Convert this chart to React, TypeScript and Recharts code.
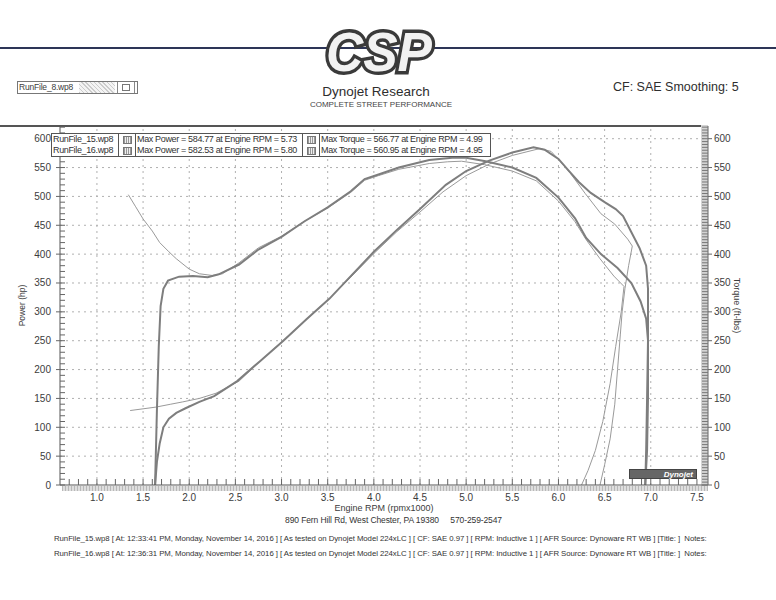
import React from "react";
import { LineChart, Line, XAxis, YAxis, ReferenceLine } from "recharts";

const FONT = '"Liberation Sans", Arial, sans-serif';

// axis labels
const RPM_LABELS = [1.0, 1.5, 2.0, 2.5, 3.0, 3.5, 4.0, 4.5, 5.0, 5.5, 6.0, 6.5, 7.0, 7.5];
const VALUE_LABELS = [0, 50, 100, 150, 200, 250, 300, 350, 400, 450, 500, 550, 600];

// run summary (legend table + footer)
const RUN_FILES = ["RunFile_15.wp8", "RunFile_16.wp8"];
const MAX_POWER = [584.77, 582.53];
const MAX_POWER_RPM = [5.73, 5.8];
const MAX_TORQUE = [566.77, 560.95];
const MAX_TORQUE_RPM = [4.99, 4.95];
const RUN_TIMES = ["12:33:41 PM", "12:36:31 PM"];

// [rpm x1000, value]
// run 15 - heavier trace, ends with a straight drop at ~6.95
const power15: [number, number][] = [
  [1.63, 0], [1.65, 40], [1.68, 72], [1.72, 100], [1.78, 115], [1.86, 125], [1.96, 133],
  [2.11, 144], [2.27, 154], [2.52, 180], [2.77, 215], [3.02, 250], [3.27, 287], [3.52, 323],
  [3.75, 362], [4.0, 404], [4.25, 442], [4.5, 478], [4.78, 520], [5.0, 544], [5.25, 562],
  [5.5, 576], [5.73, 585], [5.85, 581], [6.0, 565], [6.12, 543], [6.22, 525], [6.35, 506],
  [6.5, 490], [6.62, 478], [6.7, 466], [6.79, 438], [6.88, 410], [6.95, 380], [6.97, 340],
  [6.97, 250], [6.96, 150], [6.95, 60], [6.94, 0],
];
const torque15: [number, number][] = [
  [1.63, 0], [1.65, 130], [1.67, 240], [1.69, 310], [1.72, 340], [1.77, 354], [1.89, 361],
  [2.04, 362], [2.2, 360], [2.32, 365], [2.54, 382], [2.75, 408], [3.0, 430], [3.25, 457],
  [3.5, 481], [3.75, 509], [3.9, 530], [4.05, 538], [4.27, 550], [4.6, 563], [4.85, 567],
  [5.0, 567], [5.21, 561], [5.5, 550], [5.76, 532], [6.0, 498], [6.18, 462], [6.3, 428],
  [6.46, 400], [6.64, 376], [6.79, 350], [6.89, 318], [6.95, 288], [6.97, 250], [6.97, 150],
  [6.96, 60], [6.94, 0],
];
// run 16 - thin trace, starts at 1.34 and coasts back down at the top end
const power16: [number, number][] = [
  [1.36, 129], [1.5, 132], [1.64, 135], [1.8, 140], [1.93, 144], [2.11, 150], [2.29, 159],
  [2.54, 180], [2.75, 212], [3.0, 248], [3.25, 284], [3.5, 320], [3.75, 360], [4.0, 401],
  [4.25, 439], [4.5, 473], [4.75, 508], [5.0, 536], [5.25, 556], [5.5, 571], [5.8, 583],
  [5.92, 578], [6.0, 564], [6.12, 542], [6.29, 505], [6.46, 470], [6.61, 452], [6.75, 426],
  [6.8, 414], [6.76, 380], [6.72, 340], [6.69, 300], [6.67, 260], [6.64, 200], [6.61, 140],
  [6.56, 80], [6.5, 35], [6.45, 0],
];
const torque16: [number, number][] = [
  [1.34, 503], [1.42, 482], [1.5, 461], [1.6, 440], [1.68, 420], [1.78, 404], [1.86, 392],
  [2.0, 374], [2.11, 366], [2.25, 363], [2.36, 366], [2.54, 385], [2.75, 411], [3.0, 431],
  [3.25, 457], [3.5, 480], [3.75, 507], [3.9, 528], [4.05, 536], [4.27, 547], [4.6, 557],
  [4.8, 560], [4.95, 561], [5.2, 555], [5.5, 544], [5.76, 527], [6.0, 492], [6.18, 456],
  [6.3, 425], [6.45, 392], [6.6, 362], [6.71, 344], [6.68, 300], [6.62, 240], [6.56, 176],
  [6.48, 110], [6.4, 60], [6.32, 25], [6.25, 0],
];

const pts = (arr: [number, number][]) => arr.map(([rpm, v]) => ({ rpm, v }));

const rpmMinor = Array.from({ length: 69 }, (_, i) => Math.round((0.7 + i * 0.1) * 10) / 10);
const leftMinor = Array.from({ length: 63 }, (_, i) => i * 10);
const rightMinor = Array.from({ length: 125 }, (_, i) => i * 5);

const INK = "#3c3c3c";
const THICK = "#7e7e7e";
const THIN = "#9a9a9a";

const RpmTick = (props: any) => {
  const { x, y, payload } = props;
  const v = payload.value as number;
  const major = RPM_LABELS.includes(v);
  return (
    <g>
      <line x1={x} x2={x} y1={y} y2={y - 6} stroke="#666" />
      {major && (
        <text x={x} y={y + 16} textAnchor="middle" fontSize={10} fill={INK} fontFamily={FONT}>
          {v.toFixed(1)}
        </text>
      )}
    </g>
  );
};

const LeftTick = (props: any) => {
  const { x, y, payload } = props;
  const v = payload.value as number;
  const major = VALUE_LABELS.includes(v);
  return (
    <g>
      <line x1={x} x2={x + 5} y1={y} y2={y} stroke="#666" />
      {major && <line x1={x - 4} x2={x} y1={y} y2={y} stroke="#666" />}
      {major && (
        <text x={x - 9} y={y + 3.5} textAnchor="end" fontSize={10} fill={INK} fontFamily={FONT}>
          {v}
        </text>
      )}
    </g>
  );
};

const RightTick = (props: any) => {
  const { x, y, payload } = props;
  const v = payload.value as number;
  const major = VALUE_LABELS.includes(v);
  return (
    <g>
      <line x1={x - 6} x2={x} y1={y} y2={y} stroke="#777" />
      {major && <line x1={x} x2={x + 4} y1={y} y2={y} stroke="#666" />}
      {major && (
        <text x={x + 6} y={y + 3.5} textAnchor="start" fontSize={10} fill={INK} fontFamily={FONT}>
          {v}
        </text>
      )}
    </g>
  );
};

const Icon = () => (
  <div style={{ width: 16, borderRight: "1px solid #555", display: "flex", alignItems: "center", justifyContent: "center" }}>
    <div style={{ width: 7, height: 6, border: "1px solid #777", background: "repeating-linear-gradient(90deg,#999 0 1px,#eee 1px 2px)" }} />
  </div>
);

const Cell = ({ w, children, last }: { w: number; children: React.ReactNode; last?: boolean }) => (
  <div style={{ width: w, padding: "0 1px", overflow: "hidden", whiteSpace: "nowrap", borderRight: last ? "none" : "1px solid #555", boxSizing: "border-box" }}>
    {children}
  </div>
);

export default function App() {
  return (
    <div style={{ position: "absolute", left: 0, top: 0, width: 776, height: 600, background: "#fff", overflow: "hidden", fontFamily: FONT, color: INK }}>
      {/* header */}
      <div style={{ position: "absolute", left: 0, top: 47, width: 776, height: 2, background: "#2d3557" }} />
      <svg style={{ position: "absolute", left: 314, top: 8 }} width={150} height={76}>
        <text x={12} y={63} fontSize={56} fontWeight={900} fontStyle="italic" fill="#f2f2f2" stroke="#3a3a3a" strokeWidth={7}
          style={{ paintOrder: "stroke" }} textLength={106} lengthAdjust="spacingAndGlyphs" fontFamily={FONT}>
          CSP
        </text>
      </svg>
      <div style={{ position: "absolute", left: 17, top: 81, width: 119, height: 11, border: "1px solid #777", display: "flex", fontSize: 8.5, lineHeight: "11px", letterSpacing: -0.2 }}>
        <div style={{ width: 60, paddingLeft: 1, whiteSpace: "nowrap" }}>RunFile_8.wp8</div>
        <div style={{ width: 36, background: "repeating-linear-gradient(45deg,#ccc 0 1px,#f4f4f4 1px 3px)" }} />
        <div style={{ width: 2 }} />
        <div style={{ width: 16, display: "flex", alignItems: "center", justifyContent: "center", borderLeft: "1px solid #888", borderRight: "1px solid #888" }}>
          <div style={{ width: 6, height: 5, border: "1px solid #777" }} />
        </div>
      </div>
      <div style={{ position: "absolute", left: 276, width: 200, top: 84, textAlign: "center", fontSize: 13.5, lineHeight: "15px", color: "#2e2e2e" }}>Dynojet Research</div>
      <div style={{ position: "absolute", left: 276, width: 210, top: 100, textAlign: "center", fontSize: 8, lineHeight: "9px", color: "#444" }}>COMPLETE STREET PERFORMANCE</div>
      <div style={{ position: "absolute", left: 613, top: 80, fontSize: 12.5, color: "#2e2e2e" }}>CF: SAE Smoothing: 5</div>
      <div style={{ position: "absolute", left: 0, top: 125, width: 708, height: 1.5, background: "#555" }} />

      {/* axis bands */}
      <div style={{ position: "absolute", left: 701, top: 125, width: 7, height: 362, background: "#d4d4d4" }} />
      <div style={{ position: "absolute", left: 62, top: 486, width: 646, height: 5, background: "repeating-linear-gradient(90deg,#b8b8b8 0 1px,#dedede 1px 3px)" }} />

      <div style={{ position: "absolute", left: 0, top: 0 }}>
        <LineChart width={776} height={600} margin={{ top: 126, right: 18, bottom: 85, left: 20 }}>
          <XAxis xAxisId="rpm" dataKey="rpm" type="number" domain={[0.6, 7.62]} allowDataOverflow
            ticks={rpmMinor} interval={0} tick={<RpmTick />} tickLine={false} tickSize={0} tickMargin={0}
            height={30} axisLine={{ stroke: "#555" }}
            label={{ value: "Engine RPM (rpmx1000)", position: "insideBottom", offset: 4, fontSize: 9, fill: INK, fontFamily: FONT }} />
          <YAxis yAxisId="hp" type="number" domain={[0, 622]} allowDataOverflow width={40}
            ticks={leftMinor} interval={0} tick={<LeftTick />} tickLine={false} tickSize={0} tickMargin={0}
            axisLine={{ stroke: "#555" }}
            label={{ value: "Power (hp)", angle: -90, position: "center", dx: -18, fontSize: 8.5, fill: INK, fontFamily: FONT }} />
          <YAxis yAxisId="tq" orientation="right" type="number" domain={[0, 622]} allowDataOverflow width={50}
            ticks={rightMinor} interval={0} tick={<RightTick />} tickLine={false} tickSize={0} tickMargin={0}
            axisLine={{ stroke: "#666" }}
            label={{ value: "Torque (ft-lbs)", angle: 90, position: "center", dx: 4, fontSize: 9, fill: INK, fontFamily: FONT }} />

          {RPM_LABELS.filter((r) => r < 7.5).map((r) => (
            <ReferenceLine key={"gx" + r} x={r} xAxisId="rpm" yAxisId="hp" stroke="#b0b0b0" strokeDasharray="2 4" />
          ))}
          {VALUE_LABELS.filter((v) => v > 0).map((v) => (
            <ReferenceLine key={"gy" + v} y={v} xAxisId="rpm" yAxisId="hp" stroke="#b0b0b0" strokeDasharray="2 4" />
          ))}

          <Line data={pts(power16)} dataKey="v" xAxisId="rpm" yAxisId="hp" type="linear" dot={false} activeDot={false}
            stroke={THIN} strokeWidth={1} isAnimationActive={false} />
          <Line data={pts(torque16)} dataKey="v" xAxisId="rpm" yAxisId="tq" type="linear" dot={false} activeDot={false}
            stroke={THIN} strokeWidth={1} isAnimationActive={false} />
          <Line data={pts(power15)} dataKey="v" xAxisId="rpm" yAxisId="hp" type="linear" dot={false} activeDot={false}
            stroke={THICK} strokeWidth={2} isAnimationActive={false} />
          <Line data={pts(torque15)} dataKey="v" xAxisId="rpm" yAxisId="tq" type="linear" dot={false} activeDot={false}
            stroke={THICK} strokeWidth={2} isAnimationActive={false} />
        </LineChart>
      </div>

      {/* run table */}
      <div style={{ position: "absolute", left: 51, top: 133, border: "1px solid #555", background: "#fff", fontSize: 9, letterSpacing: -0.35, color: "#333" }}>
        {RUN_FILES.map((f, i) => (
          <div key={f} style={{ display: "flex", height: 11, lineHeight: "11px" }}>
            <Cell w={67}>{f}</Cell>
            <Icon />
            <Cell w={167}>{`Max Power = ${MAX_POWER[i].toFixed(2)} at Engine RPM = ${MAX_POWER_RPM[i].toFixed(2)}`}</Cell>
            <Icon />
            <Cell w={170} last>{`Max Torque = ${MAX_TORQUE[i].toFixed(2)} at Engine RPM = ${MAX_TORQUE_RPM[i].toFixed(2)}`}</Cell>
          </div>
        ))}
      </div>

      {/* dynojet badge */}
      <div style={{ position: "absolute", left: 629, top: 469, width: 68, height: 10, background: "#666", border: "1px solid #444",
        color: "#fff", fontSize: 8, lineHeight: "10px", fontWeight: 700, fontStyle: "italic", textAlign: "right", paddingRight: 3, boxSizing: "border-box" }}>
        Dynojet
      </div>

      {/* footer */}
      <div style={{ position: "absolute", left: 285, top: 515, fontSize: 8.5, letterSpacing: -0.1, color: "#333", whiteSpace: "pre" }}>
        {"890 Fern Hill Rd, West Chester, PA 19380     570-259-2547"}
      </div>
      {RUN_FILES.map((f, i) => (
        <div key={"n" + f} style={{ position: "absolute", left: 54, top: 534 + i * 15, fontSize: 7.8, letterSpacing: -0.05, color: "#333", whiteSpace: "pre" }}>
          {`${f} [ At: ${RUN_TIMES[i]}, Monday, November 14, 2016 ] [ As tested on Dynojet Model 224xLC ] [ CF: SAE 0.97 ] [ RPM: Inductive 1 ] [ AFR Source: Dynoware RT WB ] [Title: ]  Notes:`}
        </div>
      ))}
    </div>
  );
}
